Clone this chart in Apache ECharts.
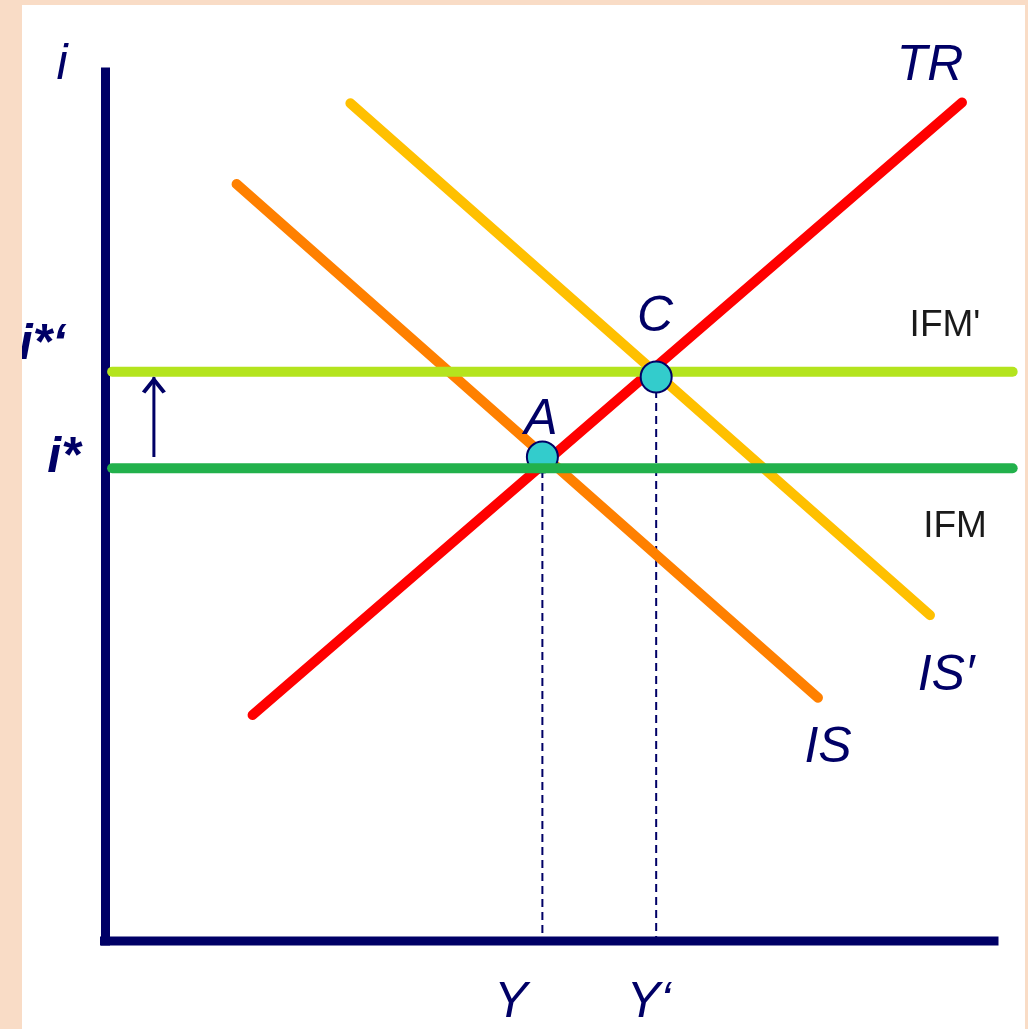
<!DOCTYPE html>
<html>
<head>
<meta charset="utf-8">
<script src="https://cdn.jsdelivr.net/npm/echarts@6/dist/echarts.min.js"></script>
<style>
  html, body { margin: 0; padding: 0; background: #fff; }
  #chart { width: 1028px; height: 1029px; }
</style>
</head>
<body>
<div id="chart"></div>
<script>
// curves (x: output, y: interest rate, axis runs 0..100)
var TR  = [[16.6, 26.0], [96.4, 96.5]];
var IS  = [[14.8, 87.1], [80.2, 28.0]];
var IS2 = [[27.6, 96.4], [92.8, 37.5]];
var iStar = 54.4;     // IFM
var iStar2 = 65.5;    // IFM'
var ifmSpan = [0.8, 102.1];
var pointA = [49.2, 55.7];
var pointC = [62.0, 64.9];
var arrow = [[5.5, 55.7], [5.5, 64.9]];
var xAxisSpan = [-0.4, 100];

var navy = '#000066';
var peach = '#f9dcc6';

var myChart = echarts.init(document.getElementById('chart'));

function seg(p, color, z, w) {
    return {
        type: 'line',
        data: p,
        symbol: 'none',
        clip: false,
        z: z,
        lineStyle: { color: color, width: w || 10, cap: 'round' }
    };
}

function txt(s, x, y, size, italic, color, align, bold) {
    return {
        type: 'text',
        z: 100,
        style: {
            text: s,
            x: x,
            y: y,
            fill: color || navy,
            font: (italic === false ? '' : 'italic ') + (bold ? 'bold ' : '') + size + 'px "Liberation Sans", Arial, sans-serif',
            textAlign: align || 'center',
            textVerticalAlign: 'middle'
        }
    };
}

var option = {
    animation: false,
    backgroundColor: '#ffffff',
    // x axis scale kept at 8.89 px per unit, room on the right for IFM lines
    grid: { left: 105, top: 72, right: 10, bottom: 88 },
    xAxis: {
        type: 'value', min: 0, max: 102.7,
        axisLine: { show: false },
        axisTick: { show: false },
        axisLabel: { show: false },
        splitLine: { show: false }
    },
    yAxis: {
        type: 'value', min: 0, max: 100,
        axisLine: { show: true, onZero: false, lineStyle: { color: navy, width: 9, cap: 'square' } },
        axisTick: { show: false },
        axisLabel: { show: false },
        splitLine: { show: false }
    },
    series: [
        // horizontal axis line, ends before the IFM lines do
        {
            type: 'line', symbol: 'none', z: 7, clip: false,
            data: [[xAxisSpan[0], 0], [xAxisSpan[1], 0]],
            lineStyle: { color: navy, width: 9, cap: 'square' }
        },
        // dashed drop lines
        {
            type: 'line', symbol: 'none', z: 1,
            data: [[pointA[0], pointA[1]], [pointA[0], 0]],
            lineStyle: { color: navy, width: 2, type: [8, 5] }
        },
        {
            type: 'line', symbol: 'none', z: 1,
            data: [[pointC[0], pointC[1]], [pointC[0], 0]],
            lineStyle: { color: navy, width: 2, type: [8, 5] }
        },
        seg(TR, '#ff0000', 3),
        seg(IS, '#ff8000', 3),
        seg(IS2, '#ffc000', 3),
        seg([[ifmSpan[0], iStar2], [ifmSpan[1], iStar2]], '#b4e41e', 4),
        {
            type: 'scatter', z: 5,
            symbolSize: 31,
            data: [pointA, pointC],
            itemStyle: { color: '#33cccc', opacity: 1, borderColor: navy, borderWidth: 2 }
        },
        seg([[ifmSpan[0], iStar], [ifmSpan[1], iStar]], '#22b14c', 6),
        // shift arrow
        {
            type: 'line', z: 6,
            showSymbol: true,
            symbol: 'none',
            data: [
                { value: arrow[0], symbol: 'none' },
                {
                    value: arrow[1],
                    symbol: 'path://M0,9 L6,0 L12,9 L10.3,10.2 L6,3.8 L1.7,10.2 Z',
                    symbolSize: [24, 17],
                    symbolOffset: [0, 8]
                }
            ],
            itemStyle: { color: navy, opacity: 1 },
            lineStyle: { color: navy, width: 3 }
        }
    ],
    graphic: [
        txt('i', 62, 65, 50),
        txt('TR', 930, 66, 50),
        txt('C', 655, 317, 50),
        txt('A', 541, 420, 50),
        txt('IS\u2032', 946, 676, 50),
        txt('IS', 828, 748, 50),
        txt('Y', 511, 1003, 50),
        txt('Y\u2018', 649, 1003, 50),
        txt('i*', 64, 458, 50, true, navy, 'center', true),
        txt('i*\u2018', 66, 345, 50, true, navy, 'right', true),
        txt("IFM'", 945, 326, 37, false, '#1a1a1a'),
        txt('IFM', 955, 527, 37, false, '#1a1a1a'),
        // slide frame
        { type: 'rect', z: 110, shape: { x: 0, y: 0, width: 22, height: 1029 }, style: { fill: peach } },
        { type: 'rect', z: 110, shape: { x: 0, y: 0, width: 1028, height: 5 }, style: { fill: peach } },
        { type: 'rect', z: 110, shape: { x: 1025, y: 0, width: 3, height: 1029 }, style: { fill: peach } }
    ]
};

myChart.setOption(option);
</script>
</body>
</html>
